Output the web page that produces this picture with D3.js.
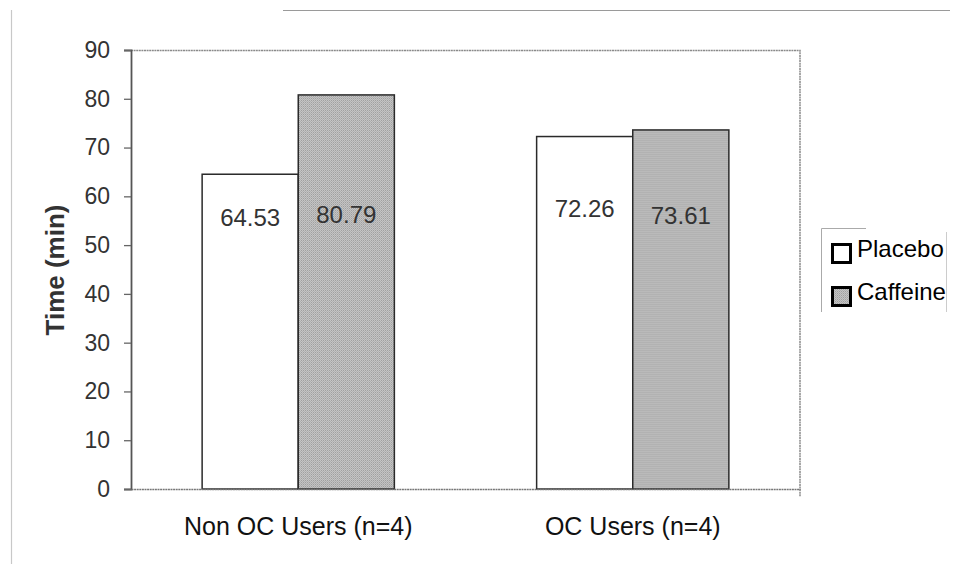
<!DOCTYPE html>
<html>
<head>
<meta charset="utf-8">
<script src="https://cdn.jsdelivr.net/npm/d3@7"></script>
<style>
  html, body { margin: 0; padding: 0; background: #fff; }
  svg { display: block; font-family: "Liberation Sans", Arial, sans-serif; }
</style>
</head>
<body>
<script>
// Mean time (min) for each user group and treatment
const categories = ["Non OC Users (n=4)", "OC Users (n=4)"];
const seriesNames = ["Placebo", "Caffeine"];
const placebo = [64.53, 72.26];
const caffeine = [80.79, 73.61];
const yTicks = [0, 10, 20, 30, 40, 50, 60, 70, 80, 90];

const W = 953, H = 564;
const margin = { left: 131, right: 153, top: 50, bottom: 75 };
const plotW = W - margin.left - margin.right;
const plotH = H - margin.top - margin.bottom;
const FONT = "Liberation Sans, Arial, sans-serif";

const svg = d3.select("body").append("svg").attr("width", W).attr("height", H);

// Dithered grey fill used for the caffeine bars
const defs = svg.append("defs");
const pat = defs.append("pattern")
  .attr("id", "dither").attr("patternUnits", "userSpaceOnUse")
  .attr("width", 2).attr("height", 2);
pat.append("rect").attr("width", 2).attr("height", 2).attr("fill", "#c4c4c4");
pat.append("rect").attr("width", 1).attr("height", 1).attr("fill", "#a0a0a0");
pat.append("rect").attr("x", 1).attr("y", 1).attr("width", 1).attr("height", 1).attr("fill", "#b0b0b0");

// Outer chart frame (top and left edges)
svg.append("line").attr("x1", 283).attr("x2", 950).attr("y1", 10.5).attr("y2", 10.5)
  .attr("stroke", "#9a9a9a").attr("stroke-width", 1.2);
svg.append("line").attr("x1", 11.5).attr("x2", 11.5).attr("y1", 10).attr("y2", H)
  .attr("stroke", "#c8c8c8").attr("stroke-width", 1.2);

const g = svg.append("g").attr("transform", `translate(${margin.left},${margin.top})`);

const x0 = d3.scaleBand().domain(categories).range([0, plotW]).paddingInner(0).paddingOuter(0);
const x1 = d3.scaleBand().domain(seriesNames).range([0, x0.bandwidth()]).paddingInner(0).paddingOuter(0.74);
const y = d3.scaleLinear().domain([0, 90]).range([plotH, 0]);

// Plot area border: top and right dotted grey
g.append("path")
  .attr("d", `M0,0.5H${plotW}V${plotH + 8}`)
  .attr("fill", "none").attr("stroke", "#8a8a8a").attr("stroke-width", 1.5)
  .attr("stroke-dasharray", "2,0.6");

const rows = categories.map((c, i) => ({ cat: c, values: [
  { key: "Placebo", value: placebo[i] },
  { key: "Caffeine", value: caffeine[i] }
]}));

const groups = g.selectAll("g.grp").data(rows).enter().append("g")
  .attr("class", "grp").attr("transform", d => `translate(${x0(d.cat)},0)`);

groups.selectAll("rect").data(d => d.values).enter().append("rect")
  .attr("x", d => x1(d.key))
  .attr("y", d => y(d.value))
  .attr("width", x1.bandwidth())
  .attr("height", d => plotH - y(d.value))
  .attr("fill", d => d.key === "Placebo" ? "#ffffff" : "url(#dither)")
  .attr("stroke", "#2a2a2a").attr("stroke-width", 1.5);

// Value labels inside bars, placed a little above mid-height of the plot
const labelLevel = { Placebo: [55.6, 57.4], Caffeine: [56.2, 56.0] };
groups.selectAll("text.val").data((d, gi) => d.values.map(v => ({ ...v, gi }))).enter().append("text")
  .attr("class", "val")
  .attr("x", d => x1(d.key) + x1.bandwidth() / 2)
  .attr("y", d => y(labelLevel[d.key][d.gi]) + 8)
  .attr("text-anchor", "middle")
  .attr("font-family", FONT)
  .attr("font-size", 24).attr("fill", "#333")
  .text(d => d.value.toFixed(2));

// Y axis
const yAxis = d3.axisLeft(y).tickValues(yTicks).tickSize(7).tickPadding(14);
const ya = g.append("g").call(yAxis);
ya.attr("font-size", null).attr("font-family", null);
ya.select(".domain").attr("stroke", "#555").attr("stroke-width", 1.8);
ya.selectAll(".tick line").attr("stroke", "#666").attr("stroke-width", 1.3);
ya.selectAll(".tick text").attr("font-size", 23).attr("fill", "#333")
  .attr("font-family", FONT);

// X axis baseline
const xAxis = d3.axisBottom(x0).tickSize(0).tickPadding(28);
const xa = g.append("g").attr("transform", `translate(0,${plotH})`).call(xAxis);
xa.attr("font-size", null).attr("font-family", null);
xa.select(".domain").attr("stroke", "#777").attr("stroke-width", 1.5).attr("stroke-dasharray", "2,0.6");
xa.selectAll(".tick text").attr("font-size", 25).attr("fill", "#111")
  .attr("font-family", FONT);

// Y axis title
svg.append("text")
  .attr("transform", `translate(64,${270}) rotate(-90)`)
  .attr("text-anchor", "middle").attr("font-size", 26).attr("font-weight", "bold")
  .attr("font-family", FONT)
  .attr("fill", "#333").text("Time (min)");

// Legend
const lg = svg.append("g").attr("transform", "translate(821,228)");
lg.append("path").attr("d", "M0.5,84V0.5H45").attr("fill", "none").attr("stroke", "#aaa").attr("stroke-width", 1);
lg.append("path").attr("d", "M125.5,4V84").attr("fill", "none").attr("stroke", "#ccc").attr("stroke-width", 1);
const li = lg.selectAll("g.item").data(seriesNames).enter().append("g")
  .attr("class", "item").attr("transform", (d, i) => `translate(0,${i * 43})`);
li.append("rect").attr("x", 11.5).attr("y", 16.5).attr("width", 18).attr("height", 18)
  .attr("fill", d => d === "Placebo" ? "#fff" : "url(#dither)")
  .attr("stroke", "#000").attr("stroke-width", 3);
li.append("text").attr("x", 36).attr("y", 29).attr("font-size", 24).attr("fill", "#000")
  .attr("font-family", FONT)
  .text(d => d);
</script>
</body>
</html>
